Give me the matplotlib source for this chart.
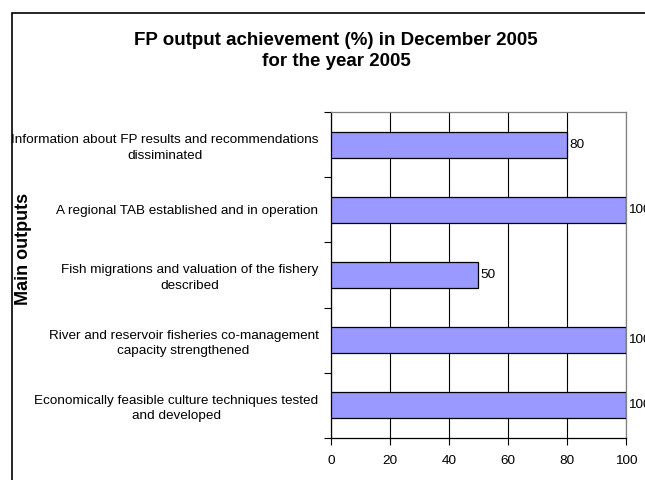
import matplotlib.pyplot as plt
from matplotlib.patches import Rectangle
import numpy as np

plt.rcParams['font.family'] = ['Liberation Sans', 'DejaVu Sans']

# data, top to bottom as in the chart
outputs = [
    'Information about FP results and recommendations\ndissiminated',
    'A regional TAB established and in operation',
    'Fish migrations and valuation of the fishery\ndescribed',
    'River and reservoir fisheries co-management\ncapacity strengthened',
    'Economically feasible culture techniques tested\nand developed',
]
achievement = [80, 100, 50, 100, 100]
xticks = [0, 20, 40, 60, 80, 100]

fig = plt.figure(figsize=(6.45, 4.8), dpi=100)
fig.patch.set_facecolor('white')

# outer chart border (only left and top visible in the picture)
fig.patches.append(Rectangle((12 / 645, -0.1), 1.2, 1 - 13 / 480 + 0.1,
                             transform=fig.transFigure, fill=False,
                             edgecolor='black', linewidth=1.2))

ax = fig.add_axes([331 / 645, 1 - 438 / 480, 295 / 645, 326 / 480])

pos = np.arange(len(outputs))
ax.barh(pos, achievement, height=0.4, color='#9999ff', edgecolor='black',
        linewidth=0.9, zorder=3)
for p, v in zip(pos, achievement):
    ax.text(v + 0.8, p, str(v), va='center', ha='left', fontsize=9.7,
            clip_on=False)

ax.set_xlim(0, 100)
ax.set_ylim(len(outputs) - 0.5, -0.5)
ax.set_xticks(xticks)
ax.set_xticklabels([str(t) for t in xticks], fontsize=9.7)
ax.set_yticks(pos)
ax.set_yticklabels(outputs, fontsize=9.7)
for lab in ax.get_yticklabels():
    lab.set_multialignment('center')
    lab.set_linespacing(1.4)
ax.set_yticks(np.arange(len(outputs) + 1) - 0.5, minor=True)
ax.tick_params(axis='y', which='major', length=0, pad=9)
ax.tick_params(axis='y', which='minor', length=5, width=0.8, direction='out')
ax.tick_params(axis='x', length=5, width=0.8, direction='out', pad=7)

ax.grid(axis='x', color='black', linewidth=0.8, zorder=0)
ax.set_axisbelow(True)
for s in ['left', 'bottom']:
    ax.spines[s].set_color('black')
    ax.spines[s].set_linewidth(0.9)
for s in ['top', 'right']:
    ax.spines[s].set_color('#808080')
    ax.spines[s].set_linewidth(0.9)

fig.text(336 / 645, 1 - 51 / 480,
         'FP output achievement (%) in December 2005\nfor the year 2005',
         ha='center', va='center', fontsize=13.5, fontweight='bold',
         linespacing=1.3)
fig.text(24 / 645, 1 - 249 / 480, 'Main outputs', rotation=90,
         ha='center', va='center', fontsize=13, fontweight='bold')

fig.savefig('out.png', dpi=100, facecolor='white')
